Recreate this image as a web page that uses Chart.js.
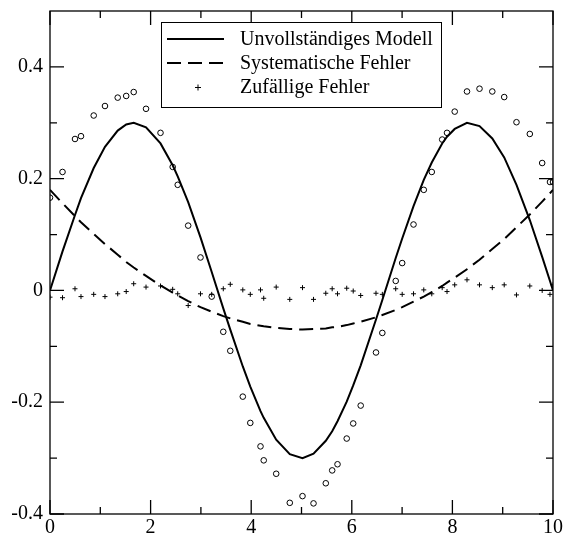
<!DOCTYPE html>
<html>
<head>
<meta charset="utf-8">
<script src="https://cdn.jsdelivr.net/npm/chart.js@4.4.0/dist/chart.umd.min.js"></script>
<style>
  html, body { margin: 0; padding: 0; background: #fff; }
  #wrap { width: 566px; height: 537px; }
</style>
</head>
<body>
<div id="wrap"><canvas id="myChart" width="566" height="537"></canvas></div>
<script>
// x positions of the samples
let xValues = [0.000, 0.249, 0.497, 0.616, 0.869, 1.093, 1.346, 1.515, 1.664, 1.909,
  2.197, 2.439, 2.539, 2.747, 2.992, 3.215, 3.445, 3.584, 3.833, 3.982,
  4.185, 4.249, 4.497, 4.767, 5.020, 5.239, 5.483, 5.610, 5.716, 5.899,
  6.028, 6.177, 6.481, 6.607, 6.873, 7.002, 7.227, 7.431, 7.590, 7.797,
  7.893, 8.046, 8.290, 8.539, 8.793, 9.030, 9.274, 9.539, 9.785, 9.940, 10.000];

// solid line: Unvollständiges Modell
let modelValues = [0.000, 0.070, 0.135, 0.165, 0.219, 0.257, 0.286, 0.297, 0.300, 0.292,
  0.263, 0.224, 0.204, 0.158, 0.095, 0.033, -0.032, -0.070, -0.136, -0.172,
  -0.216, -0.228, -0.267, -0.293, -0.300, -0.292, -0.269, -0.252, -0.234, -0.199,
  -0.170, -0.134, -0.052, -0.017, 0.058, 0.093, 0.151, 0.198, 0.229, 0.263,
  0.275, 0.289, 0.300, 0.294, 0.272, 0.238, 0.189, 0.126, 0.060, 0.017, 0.000];

// dashed line: Systematische Fehler
let systematicValues = [0.180, 0.156, 0.133, 0.122, 0.101, 0.083, 0.064, 0.051, 0.041, 0.026,
  0.009, -0.004, -0.009, -0.019, -0.030, -0.038, -0.046, -0.050, -0.056, -0.060,
  -0.063, -0.064, -0.067, -0.069, -0.070, -0.069, -0.068, -0.066, -0.065, -0.062,
  -0.059, -0.056, -0.048, -0.044, -0.035, -0.030, -0.020, -0.011, -0.003, 0.008,
  0.014, 0.023, 0.038, 0.055, 0.074, 0.092, 0.113, 0.136, 0.159, 0.174, 0.180];

// plus markers: Zufällige Fehler
let noiseValues = [-0.012, -0.013, 0.003, -0.011, -0.007, -0.011, -0.006, -0.002, 0.012, 0.006,
  0.008, 0.002, -0.006, -0.027, -0.006, -0.007, 0.003, 0.011, 0.001, -0.007,
  0.001, -0.014, 0.006, -0.016, 0.005, -0.016, -0.005, 0.003, -0.006, 0.004,
  -0.001, -0.009, -0.005, -0.007, 0.003, -0.007, -0.006, 0.001, -0.006, 0.005,
  -0.002, 0.010, 0.019, 0.010, 0.005, 0.010, -0.008, 0.008, 0.000, -0.007, 0.010];

// open circles: measured values
let measuredValues = [0.166, 0.212, 0.271, 0.276, 0.313, 0.330, 0.345, 0.348, 0.355, 0.325,
  0.282, 0.221, 0.189, 0.116, 0.059, -0.011, -0.074, -0.108, -0.190, -0.237,
  -0.279, -0.304, -0.328, -0.380, -0.368, -0.381, -0.345, -0.322, -0.311, -0.265,
  -0.238, -0.206, -0.111, -0.076, 0.017, 0.049, 0.118, 0.180, 0.212, 0.270,
  0.282, 0.320, 0.356, 0.361, 0.356, 0.346, 0.301, 0.280, 0.228, 0.194, 0.194];

let seriesLabels = ['Unvollständiges Modell', 'Systematische Fehler', 'Zufällige Fehler'];
let xTicks = [0, 2, 4, 6, 8, 10];
let xMinorTicks = [1, 3, 5, 7, 9];
let yTicks = [-0.4, -0.2, 0, 0.2, 0.4];
let yMinorTicks = [-0.3, -0.1, 0.1, 0.3];

function pairs(ys) {
  return xValues.map((x, i) => ({ x: x, y: ys[i] }));
}

let serif = '"Liberation Serif", "Times New Roman", serif';

// frame with inward ticks on all four sides
let framePlugin = {
  id: 'frame',
  afterDraw(chart) {
    let c = chart.ctx;
    let a = chart.chartArea;
    let sx = chart.scales.x, sy = chart.scales.y;
    c.save();
    c.strokeStyle = '#000';
    c.lineWidth = 1.3;
    c.strokeRect(a.left, a.top, a.right - a.left, a.bottom - a.top);
    c.beginPath();
    let tx = (v, len) => {
      let p = sx.getPixelForValue(v);
      c.moveTo(p, a.bottom); c.lineTo(p, a.bottom - len);
      c.moveTo(p, a.top); c.lineTo(p, a.top + len);
    };
    let ty = (v, len) => {
      let p = sy.getPixelForValue(v);
      c.moveTo(a.left, p); c.lineTo(a.left + len, p);
      c.moveTo(a.right, p); c.lineTo(a.right - len, p);
    };
    xTicks.forEach(v => tx(v, 14));
    xMinorTicks.forEach(v => tx(v, 7));
    yTicks.forEach(v => ty(v, 14));
    yMinorTicks.forEach(v => ty(v, 7));
    c.stroke();
    c.restore();
  }
};

// boxed legend in the upper middle
let legendPlugin = {
  id: 'boxLegend',
  afterDraw(chart) {
    let c = chart.ctx;
    let bx = 161, by = 22, bw = 280, bh = 85;
    c.save();
    c.fillStyle = '#fff';
    c.fillRect(bx, by, bw, bh);
    c.strokeStyle = '#000';
    c.lineWidth = 1;
    c.strokeRect(bx + 0.5, by + 0.5, bw, bh);
    c.font = '20px ' + serif;
    c.fillStyle = '#000';
    c.textBaseline = 'middle';
    let rows = [39, 63, 87];
    seriesLabels.forEach((label, i) => {
      let y = rows[i];
      let ds = chart.data.datasets[i];
      c.beginPath();
      if (i < 2) {
        c.lineWidth = ds.borderWidth;
        c.setLineDash(ds.borderDash || []);
        c.moveTo(167, y); c.lineTo(224, y);
        c.stroke();
        c.setLineDash([]);
      } else {
        c.lineWidth = 1;
        c.moveTo(195, y + 0.5); c.lineTo(201, y + 0.5);
        c.moveTo(198, y - 2.5); c.lineTo(198, y + 3.5);
        c.stroke();
      }
      c.fillText(label, 240, y + 1);
    });
    c.restore();
  }
};

let ctx = document.getElementById('myChart').getContext('2d');

let myChart = new Chart(ctx, {
  type: 'scatter',
  data: {
    datasets: [{
      label: seriesLabels[0],
      data: pairs(modelValues),
      showLine: true,
      borderColor: '#000',
      borderWidth: 2,
      pointRadius: 0,
      tension: 0
    }, {
      label: seriesLabels[1],
      data: pairs(systematicValues),
      showLine: true,
      borderColor: '#000',
      borderWidth: 2,
      borderDash: [14, 7],
      pointRadius: 0,
      tension: 0
    }, {
      label: seriesLabels[2],
      data: pairs(noiseValues),
      showLine: false,
      pointStyle: 'cross',
      pointRadius: 2.5,
      borderColor: '#000',
      borderWidth: 1
    }, {
      label: 'Messwerte',
      data: pairs(measuredValues),
      showLine: false,
      pointStyle: 'circle',
      pointRadius: 2.8,
      backgroundColor: 'rgba(0,0,0,0)',
      borderColor: '#000',
      borderWidth: 1
    }]
  },
  options: {
    responsive: false,
    animation: false,
    layout: { padding: { top: 11, right: 13, left: 0, bottom: 0 } },
    plugins: {
      legend: { display: false },
      tooltip: { enabled: false }
    },
    scales: {
      x: {
        type: 'linear',
        min: 0,
        max: 10,
        afterBuildTicks: s => { s.ticks = xTicks.map(v => ({ value: v })); },
        afterFit: s => { s.height = 23; s.paddingLeft = 0; s.paddingRight = 0; },
        ticks: { color: '#000', font: { family: serif, size: 20 }, padding: 2, maxRotation: 0 },
        grid: { display: false, drawTicks: false },
        border: { display: false }
      },
      y: {
        type: 'linear',
        min: -0.4,
        max: 0.5,
        afterBuildTicks: s => { s.ticks = yTicks.map(v => ({ value: v })); },
        afterFit: s => { s.width = 50; s.paddingTop = 0; s.paddingBottom = 0; },
        ticks: {
          color: '#000',
          font: { family: serif, size: 20 },
          padding: 7,
          callback: v => String(v)
        },
        grid: { display: false, drawTicks: false },
        border: { display: false }
      }
    }
  },
  plugins: [framePlugin, legendPlugin]
});
</script>
</body>
</html>
